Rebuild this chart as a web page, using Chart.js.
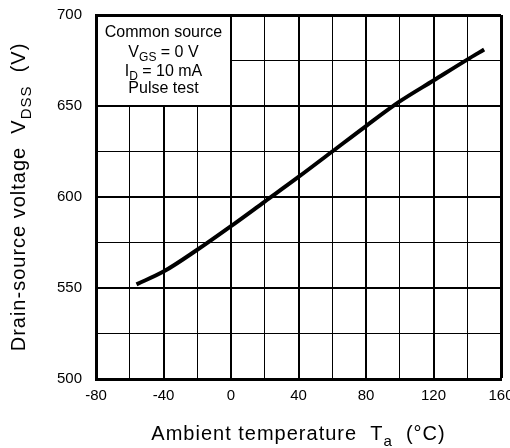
<!DOCTYPE html>
<html>
<head>
<meta charset="utf-8">
<script src="https://cdn.jsdelivr.net/npm/chart.js@4/dist/chart.umd.min.js"></script>
<style>
  html, body { margin: 0; padding: 0; background: #fff; overflow: hidden; }
</style>
</head>
<body>
<canvas id="vdssChart" width="510" height="448"></canvas>
<script>
// V(DSS) vs ambient temperature
const temps = [-56, -40, -20, 0, 20, 40, 60, 80, 100, 120, 140, 150];
const vdss = [552, 559, 571, 584, 597.5, 611, 625, 639, 652.5, 664, 675.5, 681];
const xLabels = [-80, -40, 0, 40, 80, 120, 160];
const yLabels = [500, 550, 600, 650, 700];

const FONT = '"Liberation Sans", Arial, sans-serif';

// draw a row of text pieces, some of them subscript
function drawParts(ctx, parts, x, y, size, spacing) {
  ctx.letterSpacing = (spacing || 0) + 'px';
  let total = 0;
  parts.forEach(p => {
    ctx.font = (p.sub ? Math.round(size * 0.75) : size) + 'px ' + FONT;
    p.w = ctx.measureText(p.t).width;
    total += p.w;
  });
  let cx = x - total / 2;
  ctx.textAlign = 'left';
  ctx.textBaseline = 'alphabetic';
  parts.forEach(p => {
    ctx.font = (p.sub ? Math.round(size * 0.75) : size) + 'px ' + FONT;
    ctx.fillText(p.t, cx, p.sub ? y + size * 0.28 : y);
    cx += p.w;
  });
  ctx.letterSpacing = '0px';
}

const extras = {
  id: 'extras',
  beforeDatasetsDraw(chart) {
    const { ctx, chartArea: a, scales: { x, y } } = chart;
    const x0 = x.getPixelForValue(0);
    const y650 = y.getPixelForValue(650);
    ctx.save();
    // condition box
    ctx.fillStyle = '#fff';
    ctx.fillRect(a.left + 2, a.top + 2, x0 - a.left - 3, y650 - a.top - 3);
    ctx.fillStyle = '#000';
    const cx = (a.left + x0) / 2;
    drawParts(ctx, [{ t: 'Common source' }], cx, 37, 16);
    drawParts(ctx, [{ t: 'V' }, { t: 'GS', sub: true }, { t: ' = 0 V' }], cx, 57, 16);
    drawParts(ctx, [{ t: 'I' }, { t: 'D', sub: true }, { t: ' = 10 mA' }], cx, 76, 16);
    drawParts(ctx, [{ t: 'Pulse test' }], cx, 93, 16);
    ctx.restore();
  },
  afterDraw(chart) {
    const { ctx, chartArea: a } = chart;
    ctx.save();
    ctx.fillStyle = '#000';
    // x title
    drawParts(ctx, [{ t: 'Ambient temperature  T' }, { t: 'a', sub: true }, { t: '  (\u00B0C)' }],
      (a.left + a.right) / 2, 440, 20, 1);
    // y title
    ctx.translate(25, (a.top + a.bottom) / 2);
    ctx.rotate(-Math.PI / 2);
    drawParts(ctx, [{ t: 'Drain-source voltage  V' }, { t: 'DSS', sub: true }, { t: '  (V)' }], 0, 0, 20, 1);
    ctx.restore();
  }
};

const points = temps.map((t, i) => ({ x: t, y: vdss[i] }));

new Chart(document.getElementById('vdssChart'), {
  type: 'line',
  data: {
    datasets: [{
      data: points,
      borderColor: '#000',
      borderWidth: 4,
      pointRadius: 0,
      cubicInterpolationMode: 'monotone',
      fill: false
    }]
  },
  options: {
    responsive: false,
    animation: false,
    layout: { padding: { top: 15, right: 0, left: 0, bottom: 0 } },
    plugins: { legend: { display: false }, tooltip: { enabled: false } },
    scales: {
      x: {
        type: 'linear',
        min: -80,
        max: 160,
        afterFit(s) { s.height = 69; s.paddingRight = 9; s.paddingLeft = 0; },
        ticks: {
          stepSize: 20,
          autoSkip: false,
          maxRotation: 0,
          padding: 8,
          color: '#000',
          font: { size: 15, family: FONT },
          callback: v => xLabels.includes(v) ? String(v) : ''
        },
        grid: {
          drawTicks: false,
          color: '#000',
          lineWidth: c => (c.tick.value === 160 ? 3 : c.tick.value % 40 === 0 ? 2 : 1)
        },
        border: { color: '#000', width: 3 }
      },
      y: {
        min: 500,
        max: 700,
        afterFit(s) { s.width = 96; s.paddingTop = 0; s.paddingBottom = 0; },
        ticks: {
          stepSize: 25,
          autoSkip: false,
          padding: 14,
          color: '#000',
          font: { size: 15, family: FONT },
          callback: v => yLabels.includes(v) ? String(v) : ''
        },
        grid: {
          drawTicks: false,
          color: '#000',
          lineWidth: c => (c.tick.value === 700 ? 3 : c.tick.value % 50 === 0 ? 2 : 1)
        },
        border: { color: '#000', width: 3 }
      }
    }
  },
  plugins: [extras]
});
</script>
</body>
</html>
